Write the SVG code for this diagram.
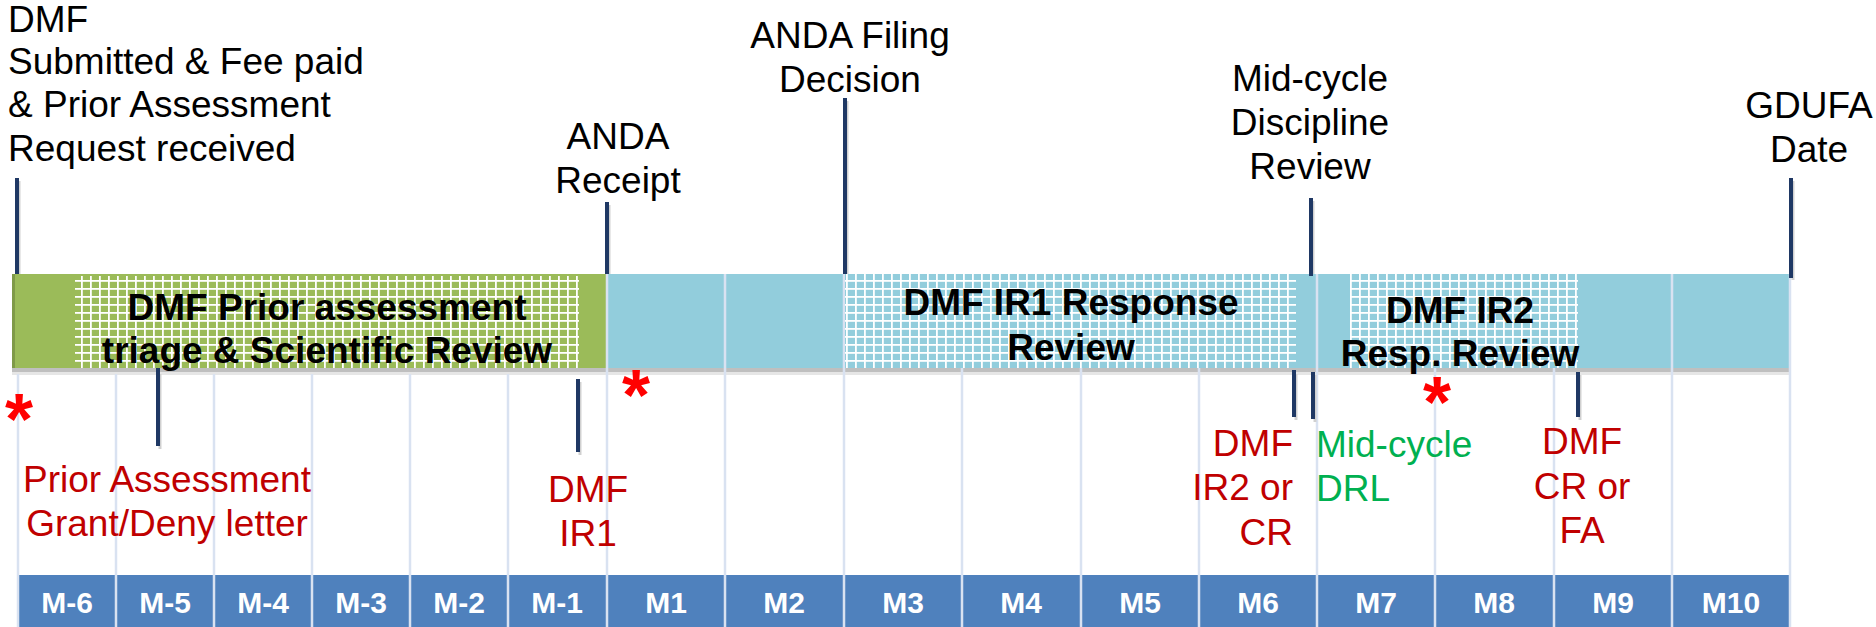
<svg xmlns="http://www.w3.org/2000/svg" width="1876" height="627" viewBox="0 0 1876 627">
<style>
.lbl{font-family:"Liberation Sans",Arial,sans-serif;font-size:37px;fill:#000}
.red{font-family:"Liberation Sans",Arial,sans-serif;font-size:37px;fill:#C00000}
.grn{font-family:"Liberation Sans",Arial,sans-serif;font-size:37px;fill:#00B050}
.bar{font-family:"Liberation Sans",Arial,sans-serif;font-size:37px;font-weight:bold;fill:#000}
.mon{font-family:"Liberation Sans",Arial,sans-serif;font-size:30px;font-weight:bold;fill:#fff}
.ast{font-family:"Liberation Sans",Arial,sans-serif;font-size:72px;font-weight:bold;fill:#FF0000}
.tick{stroke:#1F3864;stroke-width:4}
.tsh{stroke:#D0D0D0;stroke-width:3}
.grid{stroke:#D9E2F1;stroke-width:2.5}
.cell{fill:#4F81BD}
</style>
<defs>
<pattern id="hg" width="9" height="8" patternUnits="userSpaceOnUse">
<rect width="9" height="8" fill="#9BBB59"/>
<rect x="0" y="0" width="1.8" height="8" fill="#fff"/>
<rect x="0" y="0" width="9" height="1.8" fill="#fff"/>
</pattern>
<pattern id="hb" width="9" height="8" patternUnits="userSpaceOnUse">
<rect width="9" height="8" fill="#92CDDC"/>
<rect x="0" y="0" width="1.8" height="8" fill="#fff"/>
<rect x="0" y="0" width="9" height="1.8" fill="#fff"/>
</pattern>
</defs>
<rect width="1876" height="627" fill="#fff"/>

<g id="months">
<rect class="cell" x="18" y="575" width="98" height="52"/>
<rect class="cell" x="116" y="575" width="98" height="52"/>
<rect class="cell" x="214" y="575" width="98" height="52"/>
<rect class="cell" x="312" y="575" width="98" height="52"/>
<rect class="cell" x="410" y="575" width="98" height="52"/>
<rect class="cell" x="508" y="575" width="99" height="52"/>
<rect class="cell" x="607" y="575" width="1183" height="52"/>
</g>

<g id="bars">
<rect x="12" y="274" width="595" height="94" fill="#9BBB59"/>
<rect x="607" y="274" width="1183" height="94" fill="#92CDDC"/>
<rect x="12" y="368" width="1778" height="4" fill="#BFBFBF"/>
<rect x="12" y="372" width="1778" height="3" fill="#E6E6E6"/>
<rect x="12" y="274" width="3" height="94" fill="#7F9A48"/>
</g>

<g id="grid">
<line class="grid" x1="18" y1="374" x2="18" y2="627"/>
<line class="grid" x1="116" y1="374" x2="116" y2="627"/>
<line class="grid" x1="214" y1="374" x2="214" y2="627"/>
<line class="grid" x1="312" y1="374" x2="312" y2="627"/>
<line class="grid" x1="410" y1="374" x2="410" y2="627"/>
<line class="grid" x1="508" y1="374" x2="508" y2="627"/>
<line class="grid" x1="607" y1="274" x2="607" y2="627"/>
<line class="grid" x1="725" y1="274" x2="725" y2="627"/>
<line class="grid" x1="844" y1="274" x2="844" y2="627"/>
<line class="grid" x1="962" y1="274" x2="962" y2="627"/>
<line class="grid" x1="1081" y1="274" x2="1081" y2="627"/>
<line class="grid" x1="1199" y1="274" x2="1199" y2="627"/>
<line class="grid" x1="1317" y1="274" x2="1317" y2="627"/>
<line class="grid" x1="1435" y1="274" x2="1435" y2="627"/>
<line class="grid" x1="1554" y1="274" x2="1554" y2="627"/>
<line class="grid" x1="1672" y1="274" x2="1672" y2="627"/>
<line class="grid" x1="1790" y1="274" x2="1790" y2="627"/>
</g>

<g id="phase-prior">
<rect x="75" y="276" width="504" height="92" fill="url(#hg)"/>
<text class="bar" text-anchor="middle" x="327" y="320">DMF Prior assessment</text>
<text class="bar" text-anchor="middle" x="327" y="363">triage &amp; Scientific Review</text>
</g>
<g id="phase-ir1">
<rect x="845" y="274" width="451" height="94" fill="url(#hb)"/>
<text class="bar" text-anchor="middle" x="1071" y="315">DMF IR1 Response</text>
<text class="bar" text-anchor="middle" x="1071" y="360">Review</text>
</g>
<g id="phase-ir2">
<rect x="1350" y="274" width="228" height="94" fill="url(#hb)"/>
<text class="bar" text-anchor="middle" x="1460" y="323">DMF IR2</text>
<text class="bar" text-anchor="middle" x="1460" y="366">Resp. Review</text>
</g>

<g id="month-labels">
<text class="mon" text-anchor="middle" x="67" y="613">M-6</text>
<text class="mon" text-anchor="middle" x="165" y="613">M-5</text>
<text class="mon" text-anchor="middle" x="263" y="613">M-4</text>
<text class="mon" text-anchor="middle" x="361" y="613">M-3</text>
<text class="mon" text-anchor="middle" x="459" y="613">M-2</text>
<text class="mon" text-anchor="middle" x="557" y="613">M-1</text>
<text class="mon" text-anchor="middle" x="666" y="613">M1</text>
<text class="mon" text-anchor="middle" x="784" y="613">M2</text>
<text class="mon" text-anchor="middle" x="903" y="613">M3</text>
<text class="mon" text-anchor="middle" x="1021" y="613">M4</text>
<text class="mon" text-anchor="middle" x="1140" y="613">M5</text>
<text class="mon" text-anchor="middle" x="1258" y="613">M6</text>
<text class="mon" text-anchor="middle" x="1376" y="613">M7</text>
<text class="mon" text-anchor="middle" x="1494" y="613">M8</text>
<text class="mon" text-anchor="middle" x="1613" y="613">M9</text>
<text class="mon" text-anchor="middle" x="1731" y="613">M10</text>
</g>

<g id="connectors">
<line class="tsh" x1="19" y1="181" x2="19" y2="274"/>
<line class="tick" x1="17" y1="178" x2="17" y2="274"/>
<line class="tsh" x1="609" y1="205" x2="609" y2="274"/>
<line class="tick" x1="607" y1="202" x2="607" y2="274"/>
<line class="tsh" x1="847" y1="101" x2="847" y2="274"/>
<line class="tick" x1="845" y1="98" x2="845" y2="274"/>
<line class="tsh" x1="1313" y1="201" x2="1313" y2="274"/>
<line class="tick" x1="1311" y1="198" x2="1311" y2="276"/>
<line class="tsh" x1="1793" y1="181" x2="1793" y2="280"/>
<line class="tick" x1="1791" y1="178" x2="1791" y2="278"/>
<line class="tsh" x1="160" y1="374" x2="160" y2="449"/>
<line class="tick" x1="158" y1="368" x2="158" y2="446"/>
<line class="tsh" x1="580" y1="382" x2="580" y2="455"/>
<line class="tick" x1="578" y1="379" x2="578" y2="452"/>
<line class="tsh" x1="1296" y1="374" x2="1296" y2="420"/>
<line class="tick" x1="1294" y1="370" x2="1294" y2="417"/>
<line class="tsh" x1="1315" y1="375" x2="1315" y2="422"/>
<line class="tick" x1="1313" y1="372" x2="1313" y2="419"/>
<line class="tsh" x1="1580" y1="375" x2="1580" y2="420"/>
<line class="tick" x1="1578" y1="372" x2="1578" y2="417"/>
</g>

<g id="m-dmf-submitted">
<text class="lbl" x="8" y="32">DMF</text>
<text class="lbl" x="8" y="74">Submitted &amp; Fee paid</text>
<text class="lbl" x="8" y="117">&amp; Prior Assessment</text>
<text class="lbl" x="8" y="161">Request received</text>
</g>
<g id="m-anda-receipt">
<text class="lbl" text-anchor="middle" x="618" y="149">ANDA</text>
<text class="lbl" text-anchor="middle" x="618" y="193">Receipt</text>
</g>
<g id="m-anda-filing">
<text class="lbl" text-anchor="middle" x="850" y="48">ANDA Filing</text>
<text class="lbl" text-anchor="middle" x="850" y="92">Decision</text>
</g>
<g id="m-midcycle">
<text class="lbl" text-anchor="middle" x="1310" y="91">Mid-cycle</text>
<text class="lbl" text-anchor="middle" x="1310" y="135">Discipline</text>
<text class="lbl" text-anchor="middle" x="1310" y="179">Review</text>
</g>
<g id="m-gdufa">
<text class="lbl" text-anchor="middle" x="1809" y="118">GDUFA</text>
<text class="lbl" text-anchor="middle" x="1809" y="162">Date</text>
</g>

<g id="e-prior-letter">
<text class="red" text-anchor="middle" x="167" y="492">Prior Assessment</text>
<text class="red" text-anchor="middle" x="167" y="536">Grant/Deny letter</text>
</g>
<g id="e-ir1">
<text class="red" text-anchor="middle" x="588" y="502">DMF</text>
<text class="red" text-anchor="middle" x="588" y="546">IR1</text>
</g>
<g id="e-ir2">
<text class="red" text-anchor="end" x="1293" y="456">DMF</text>
<text class="red" text-anchor="end" x="1293" y="500">IR2 or</text>
<text class="red" text-anchor="end" x="1293" y="545">CR</text>
</g>
<g id="e-drl">
<text class="grn" x="1316" y="457">Mid-cycle</text>
<text class="grn" x="1316" y="501">DRL</text>
</g>
<g id="e-crfa">
<text class="red" text-anchor="middle" x="1582" y="454">DMF</text>
<text class="red" text-anchor="middle" x="1582" y="499">CR or</text>
<text class="red" text-anchor="middle" x="1582" y="543">FA</text>
</g>

<g id="asterisks">
<text class="ast" text-anchor="middle" x="19" y="444">*</text>
<text class="ast" text-anchor="middle" x="636" y="420">*</text>
<text class="ast" text-anchor="middle" x="1437" y="427">*</text>
</g>
</svg>
